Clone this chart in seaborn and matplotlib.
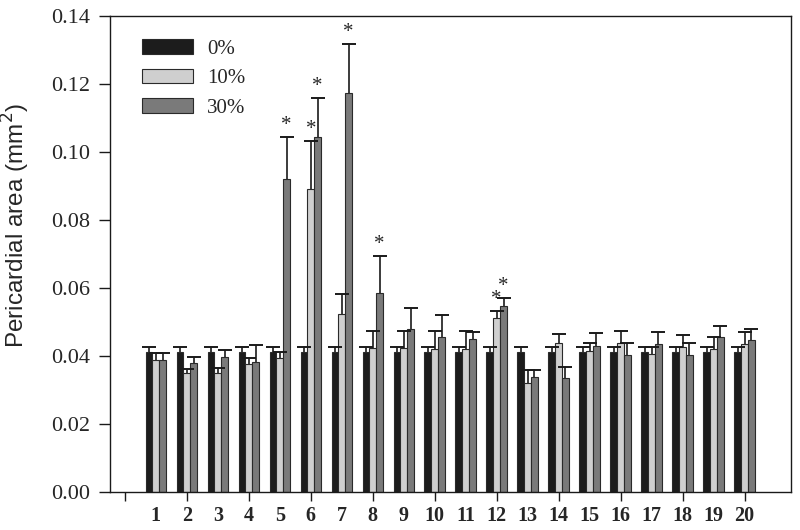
import numpy as np
import pandas as pd
import matplotlib
matplotlib.use("Agg")
import matplotlib.pyplot as plt
import seaborn as sns

days = list(range(1, 21))
levels = ["0%", "10%", "30%"]

mean_0 = [0.0411] * 20
err_0 = [0.0015] * 20

mean_10 = [0.0388, 0.0351, 0.0349, 0.0376, 0.0394, 0.0890, 0.0523, 0.0424, 0.0424, 0.0421,
           0.0422, 0.0513, 0.0320, 0.0437, 0.0414, 0.0439, 0.0405, 0.0427, 0.0422, 0.0436]
err_10 = [0.0022, 0.0011, 0.0017, 0.0018, 0.0017, 0.0142, 0.0058, 0.0051, 0.0051, 0.0052,
          0.0052, 0.0019, 0.0039, 0.0027, 0.0023, 0.0035, 0.0021, 0.0034, 0.0035, 0.0036]

mean_30 = [0.0388, 0.0378, 0.0396, 0.0383, 0.0921, 0.1044, 0.1175, 0.0584, 0.0478, 0.0457,
           0.0449, 0.0547, 0.0337, 0.0336, 0.0428, 0.0403, 0.0434, 0.0403, 0.0455, 0.0447]
err_30 = [0.0022, 0.0018, 0.0022, 0.0049, 0.0123, 0.0116, 0.0144, 0.0110, 0.0064, 0.0063,
          0.0023, 0.0025, 0.0022, 0.0031, 0.0039, 0.0034, 0.0036, 0.0034, 0.0033, 0.0033]

# significant bars: (day, level)
stars = [(5, "30%"), (6, "10%"), (6, "30%"), (7, "30%"), (8, "30%"), (12, "10%"), (12, "30%")]

df = pd.DataFrame({
    "day": days * 3,
    "level": [l for l in levels for _ in days],
    "area": mean_0 + mean_10 + mean_30,
    "err": err_0 + err_10 + err_30,
})

sns.set_theme(style="ticks")
plt.rcParams["font.family"] = ["Liberation Serif", "DejaVu Serif"]

fig = plt.figure(figsize=(8, 5.3), dpi=100)
ax = fig.add_axes([0.1375, 0.0717, 0.8513, 0.898])

palette = {"0%": "#1c1c1c", "10%": "#cfcfcf", "30%": "#7a7a7a"}
sns.barplot(data=df, x="day", y="area", hue="level", hue_order=levels, palette=palette,
            native_scale=True, width=0.66, gap=0, errorbar=None, saturation=1,
            edgecolor="#2a2a2a", linewidth=0.8, ax=ax)

for cont, lev in zip(ax.containers, levels):
    sub = df[df.level == lev]
    xs = np.array([p.get_x() + p.get_width() / 2 for p in cont.patches])
    tops = sub["area"].values + sub["err"].values
    # upper error only, cap at top
    ax.vlines(xs, sub["area"].values, tops, color="#1a1a1a", lw=1.2, zorder=3)
    ax.plot(xs, tops, ls="none", marker="_", markersize=9.6, markeredgewidth=1.4,
            color="#1a1a1a", zorder=3)
    for day, x, t in zip(sub["day"], xs, tops):
        if (day, lev) in stars:
            ax.text(x, t + 0.0006, "*", ha="center", va="bottom", fontsize=15)

ax.set_xlim(-0.48, 21.5)
ax.set_ylim(0, 0.14)
yt = np.arange(0, 0.141, 0.02)
ax.set_yticks(yt)
ax.set_yticklabels([f"{v:.2f}" for v in yt], fontsize=16)
ax.xaxis.remove_overlapping_locs = False
ax.set_xticks(np.arange(0, 21, 2))
ax.set_xticklabels([])
ax.set_xticks(days, minor=True)
ax.set_xticklabels([str(d) for d in days], minor=True, fontsize=14.5, fontweight="bold")
ax.tick_params(axis="x", which="major", length=6.5, width=1, color="#1a1a1a")
ax.tick_params(axis="x", which="minor", length=0, pad=10)
ax.tick_params(axis="y", length=8, width=1, color="#1a1a1a", pad=6)
ax.set_xlabel("")
ax.set_ylabel("Pericardial area (mm$^2$)", fontsize=17.5, family=["Liberation Sans"])
ax.yaxis.set_label_coords(-0.115, 0.561)
for s in ax.spines.values():
    s.set_linewidth(1.0)
    s.set_color("#1a1a1a")

ax.legend(loc="upper left", bbox_to_anchor=(0.047, 0.952), frameon=False, fontsize=15,
          handlelength=2.45, handleheight=0.72, labelspacing=0.48, handletextpad=0.67,
          borderpad=0, borderaxespad=0)

fig.savefig("out.png", dpi=100)
